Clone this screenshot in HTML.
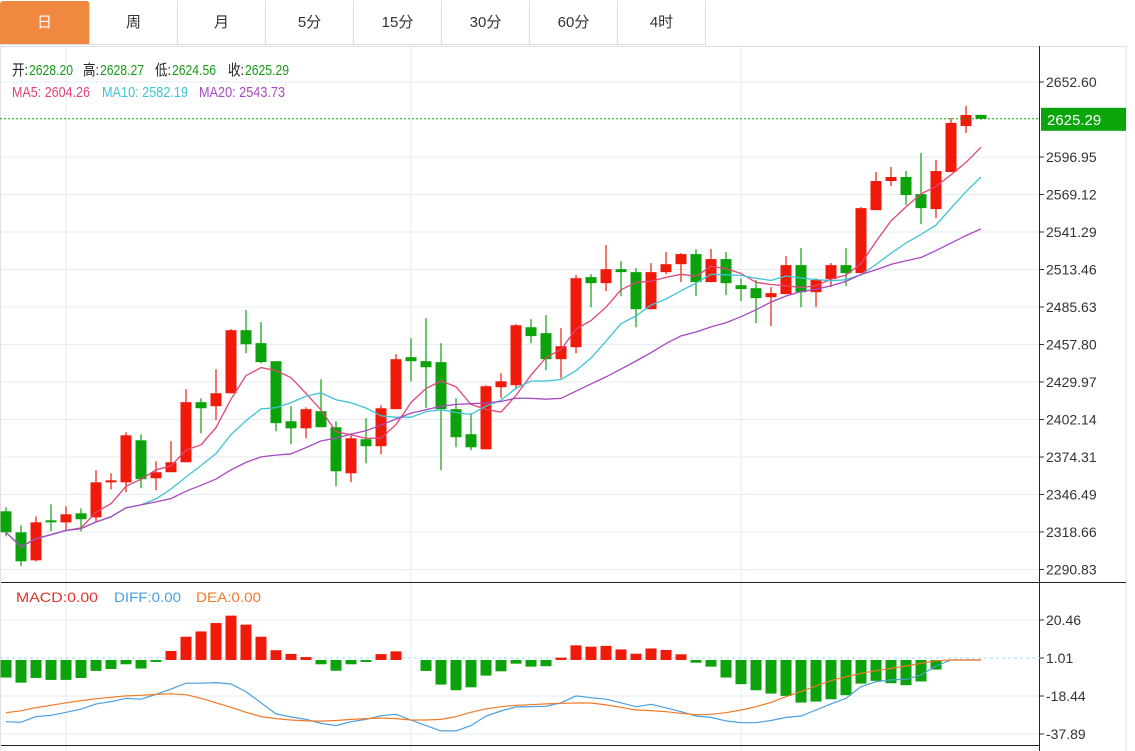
<!DOCTYPE html>
<html><head><meta charset="utf-8">
<style>
body{margin:0;background:#fff;font-family:"Liberation Sans","Noto Sans CJK SC",sans-serif;}
#wrap{position:relative;width:1135px;height:751px;overflow:hidden;background:#fff;}
.tab{position:absolute;top:1px;height:44px;width:88px;border-right:1px solid #dcdcdc;border-bottom:1px solid #dcdcdc;text-align:center;line-height:44px;font-size:15px;color:#333;box-sizing:border-box;}
.tab.on{background:#f0883f;color:#fff;border-radius:3px 3px 0 0;}
</style></head><body>
<div id="wrap">
<div class="tab on" style="left:0;width:90px">日</div>
<div class="tab" style="left:90px">周</div>
<div class="tab" style="left:178px">月</div>
<div class="tab" style="left:266px">5分</div>
<div class="tab" style="left:354px">15分</div>
<div class="tab" style="left:442px">30分</div>
<div class="tab" style="left:530px">60分</div>
<div class="tab" style="left:618px">4时</div>
<svg id="svg" width="1135" height="751" style="position:absolute;left:0;top:0"></svg>
</div>
<script>
const opens=[2334.0,2318.4,2297.6,2327.3,2325.8,2332.5,2329.5,2355.5,2355.5,2386.7,2358.5,2363.0,2370.4,2415.0,2412.0,2421.6,2468.4,2458.8,2445.4,2400.8,2395.6,2408.3,2396.4,2362.2,2387.5,2382.3,2409.8,2448.4,2445.4,2444.7,2409.8,2391.2,2380.0,2426.1,2427.6,2470.6,2466.2,2446.9,2455.8,2507.8,2503.3,2513.7,2511.5,2484.0,2511.5,2517.4,2524.9,2504.1,2521.2,2501.8,2499.6,2492.9,2495.2,2516.7,2496.6,2506.3,2516.7,2510.8,2557.5,2579.1,2582.1,2569.4,2558.3,2585.8,2619.9,2628.20];
const highs=[2337.0,2323.6,2330.3,2339.2,2337.7,2336.2,2364.5,2362.2,2392.7,2391.2,2371.1,2386.0,2424.6,2417.9,2439.5,2469.2,2483.3,2474.4,2445.4,2412.0,2411.2,2432.0,2400.8,2391.9,2403.1,2412.7,2450.6,2462.5,2477.3,2458.8,2417.9,2406.8,2427.6,2436.5,2472.9,2476.6,2479.6,2469.9,2509.3,2510.0,2531.6,2519.7,2514.5,2518.2,2526.4,2525.6,2528.6,2528.6,2526.4,2507.0,2505.6,2500.4,2523.4,2529.3,2507.0,2518.2,2529.3,2559.8,2585.8,2589.5,2586.5,2599.9,2594.7,2625.9,2634.8,2628.27];
const lows=[2315.4,2293.2,2296.9,2319.1,2319.1,2319.1,2326.6,2350.3,2348.1,2351.1,2349.6,2363.0,2370.4,2391.9,2401.6,2421.6,2451.3,2443.9,2393.4,2383.8,2388.2,2396.4,2352.6,2355.5,2369.6,2376.3,2409.8,2430.5,2410.5,2364.5,2381.5,2379.3,2380.0,2417.9,2424.6,2458.8,2438.7,2432.8,2451.3,2485.5,2497.4,2493.7,2470.6,2484.0,2510.0,2504.1,2493.7,2504.1,2494.4,2490.0,2473.6,2471.4,2495.2,2485.5,2485.5,2500.4,2501.1,2510.8,2557.5,2575.4,2561.3,2547.1,2551.6,2585.8,2614.7,2624.56];
const closes=[2318.4,2296.9,2325.8,2325.8,2331.8,2328.1,2355.5,2357.0,2390.4,2357.8,2363.0,2370.4,2415.0,2410.5,2421.6,2468.4,2458.0,2444.7,2399.4,2395.6,2409.8,2396.4,2363.7,2388.2,2382.3,2410.5,2446.9,2445.4,2440.9,2409.8,2389.0,2381.5,2426.8,2430.5,2472.1,2464.0,2446.9,2456.5,2507.0,2503.3,2513.7,2511.5,2484.0,2511.5,2517.4,2524.9,2504.1,2521.2,2503.3,2498.9,2492.2,2495.9,2516.7,2496.6,2505.6,2516.7,2510.8,2559.0,2579.1,2582.1,2568.7,2559.0,2586.5,2622.2,2628.1,2625.29];
const macdBars=[-9,-11.6,-9.2,-10.2,-10.2,-9.2,-5.6,-4.6,-2.2,-4.4,-1,4.6,11.9,14.6,18.9,22.7,18.1,11.9,5,3.1,1.5,-2.2,-5.5,-2.2,-1,3,4.4,0,-5.6,-12.6,-15.5,-14,-8,-5.8,-1.9,-3.4,-3.2,1.2,7.5,6.8,7.2,5.4,3.2,5.9,5.1,2.9,-1.4,-3.4,-9,-12.4,-15.5,-17.2,-18.4,-21.8,-21.3,-20.1,-18,-12.1,-10.7,-11.9,-12.9,-11,-4.9,0,0,0];
const diffVals=[-31.6,-31.9,-29,-28.3,-26.8,-25.2,-22.5,-21.3,-19.6,-20.1,-17.6,-14.9,-11.9,-11.9,-11.6,-12.3,-16.2,-21.9,-27.6,-29.2,-30.4,-32.4,-33.6,-31.6,-30.4,-28.5,-27.8,-30.7,-33.6,-36.3,-36.3,-33.6,-28.7,-26.1,-24,-23.9,-23.7,-21.9,-18.4,-19.3,-20.1,-21.9,-23.9,-22.7,-24.5,-26.5,-28.7,-29.4,-31.2,-32.1,-32.1,-31,-29.4,-28.7,-25.6,-22.5,-19.6,-13.7,-11.1,-10.2,-9.9,-7.7,-3.1,0,0,0];
const deaVals=[-27,-26,-24.4,-23.2,-21.9,-20.8,-19.8,-19.1,-18.4,-18.1,-17.6,-17.3,-17.8,-19.6,-21.9,-24.2,-26.8,-29,-30,-30.7,-31.2,-31.3,-31,-30.4,-30,-29.7,-30,-30.7,-30.7,-30.4,-29,-26.8,-25,-23.9,-23.2,-22.9,-22.5,-22.2,-22,-22,-23,-24.2,-25.6,-25.9,-26.5,-27.3,-28,-27.8,-27,-25.6,-23.9,-21.7,-18.8,-16.2,-13.3,-10.6,-8.6,-6.8,-5.5,-4.3,-3.1,-1.7,-0.4,0,0,0];
const priceTicks=["2652.60","2596.95","2569.12","2541.29","2513.46","2485.63","2457.80","2429.97","2402.14","2374.31","2346.49","2318.66","2290.83"];
const macdTicks=["20.46","1.01","-18.44","-37.89"];

const svg=document.getElementById('svg');
const NS='http://www.w3.org/2000/svg';
function mk(tag,attrs,parent){const e=document.createElementNS(NS,tag);for(const k in attrs)e.setAttribute(k,attrs[k]);(parent||svg).appendChild(e);return e;}
const RED='#f01a0a',GREEN='#0ba20b';
const xOf=i=>6+15*i;
const yP=p=>82+(2652.60-p)*(37.5/27.83);
const yM=v=>658-(v-1.01)*(38/19.45);

priceTicks.forEach(t=>{const y=yP(parseFloat(t));
 const g=mk('line',{x1:0,x2:1040,y1:y,y2:y,stroke:'#e6ecf2','stroke-width':1});
 
 mk('line',{x1:1040,x2:1044,y1:y,y2:y,stroke:'#333'});
 const tx=mk('text',{x:1046,y:y+5,'font-size':14,fill:'#333','font-family':'Liberation Sans, sans-serif'});tx.textContent=t;
 
});
macdTicks.forEach(t=>{const y=yM(parseFloat(t));
 if(t!=="1.01"){const g=mk('line',{x1:0,x2:1040,y1:y,y2:y,stroke:'#e6ecf2'});}
 mk('line',{x1:1040,x2:1044,y1:y,y2:y,stroke:'#333'});
 const tx=mk('text',{x:1046,y:y+5,'font-size':14,fill:'#333','font-family':'Liberation Sans, sans-serif'});tx.textContent=t;
 
});
[66,411,741].forEach(x=>{const l=mk('line',{x1:x,x2:x,y1:46,y2:751,stroke:'#e6ecf2'});});
mk('line',{x1:0,x2:1126,y1:46.5,y2:46.5,stroke:'#e0e0e0'});
mk('line',{x1:1126,x2:1126,y1:46,y2:751,stroke:'#e0e0e0'});
mk('line',{x1:1039.5,x2:1039.5,y1:46,y2:751,stroke:'#222'});
mk('line',{x1:0,x2:1126,y1:582.5,y2:582.5,stroke:'#222'});
mk('line',{x1:0,x2:1040,y1:745.5,y2:745.5,stroke:'#222'});
mk('line',{x1:0.5,x2:0.5,y1:46,y2:751,stroke:'#e0e0e0'});

const cg=mk('g',{});
closes.forEach((c,i)=>{const o=opens[i],x=xOf(i),col=c>=o?RED:GREEN;
 const w=mk('line',{x1:x,x2:x,y1:yP(highs[i]),y2:yP(lows[i]),stroke:col,'stroke-width':1.2},cg);
 
 const top=yP(Math.max(o,c)),bot=yP(Math.min(o,c));
 const r=mk('rect',{x:x-5.5,y:top,width:11,height:Math.max(1.5,bot-top),fill:col},cg);
 
});
function ma(n){return closes.map((_,i)=>{const s=closes.slice(Math.max(0,i-n+1),i+1);return s.reduce((a,b)=>a+b,0)/s.length;});}
[[5,'#e0457b','ma5-line'],[10,'#3ec3d6','ma10-line'],[20,'#a848c2','ma20-line']].forEach(([n,col,nm])=>{
 const pts=ma(n).map((v,i)=>xOf(i)+','+yP(v).toFixed(1)).join(' ');
 const p=mk('polyline',{points:pts,fill:'none',stroke:col,'stroke-width':1.3});
 
});
const lc=closes[closes.length-1];
const dl=mk('line',{x1:0,x2:1040,y1:yP(lc),y2:yP(lc),stroke:GREEN,'stroke-dasharray':'2,2'});

const lb=mk('rect',{x:1041,y:yP(lc)-11,width:85,height:23,fill:'#0aa50a'});

const lt=mk('text',{x:1047,y:yP(lc)+6,'font-size':15,fill:'#fff','font-family':'Liberation Sans, sans-serif'});lt.textContent=lc.toFixed(2);


const z=yM(0);
const zl=mk('line',{x1:0,x2:1040,y1:yM(1.01),y2:yM(1.01),stroke:'#a8d4ea','stroke-dasharray':'3,3'});

macdBars.forEach((v,i)=>{if(v===0)return;const y=yM(v);
 const r=mk('rect',{x:xOf(i)-5.5,y:Math.min(y,z),width:11,height:Math.abs(y-z),fill:v>0?RED:GREEN});
 
});
[[diffVals,'#4a9fe0','diff-line'],[deaVals,'#f07a26','dea-line']].forEach(([arr,col,nm])=>{
 const p=mk('polyline',{points:arr.map((v,i)=>xOf(i)+','+yM(v).toFixed(1)).join(' '),fill:'none',stroke:col,'stroke-width':1.2});
 
});

function txt(x,y,s,col,nm,size,len){const a={x:x,y:y,'font-size':size||14,fill:col,'font-family':'Liberation Sans, Noto Sans CJK SC, sans-serif'};if(len){a.textLength=len;a.lengthAdjust='spacingAndGlyphs';}const t=mk('text',a);t.textContent=s;return t;}
const ohlc=[['开:',opens[65],12],['高:',highs[65],83],['低:',lows[65],155],['收:',closes[65],228]];
ohlc.forEach(([k,v,x])=>{
 txt(x,75,k,'#222','ohlc-key',15,16);
 txt(x+17,75,v.toFixed(2),'#1a9a1a','ohlc-value',15,44);
});
txt(12,97,'MA5: 2604.26','#e0457b','ma5-legend',15,78);
txt(102,97,'MA10: 2582.19','#3ec3d6','ma10-legend',15,86);
txt(199,97,'MA20: 2543.73','#a848c2','ma20-legend',15,86);
txt(16,602,'MACD:0.00','#e0332a','macd-legend',14,82);
txt(114,602,'DIFF:0.00','#4a9fe0','diff-legend',14,67);
txt(196,602,'DEA:0.00','#f07a26','dea-legend',14,65);
</script>
</body></html>
